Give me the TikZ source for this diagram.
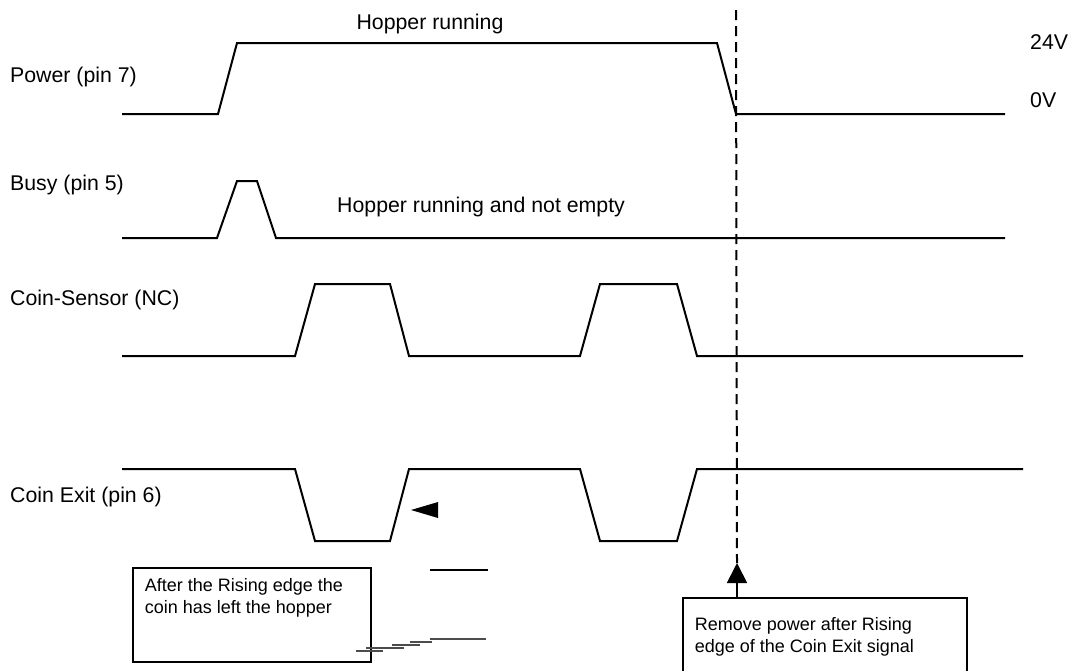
\documentclass[tikz,border=0pt]{standalone}
\usepackage{fontspec}
\setmainfont{Liberation Sans}
\usetikzlibrary{arrows.meta,positioning}

\begin{document}
\begin{tikzpicture}[
    x=1pt, y=-1pt,
    sig/.style={line width=2pt, line join=miter},
    lbl/.style={font=\fontsize{21.3}{25}\selectfont, inner sep=0pt},
    note/.style={rectangle, draw, line width=1.6pt, inner xsep=12pt, inner ysep=11pt, font=\fontsize{18}{22}\selectfont},
    arrow/.style={-{Triangle[length=20pt,width=20pt]}, line width=1.8pt}
]
    \clip (0,0) rectangle (1068,670);

    % Signals
    \draw[sig] (122,114) -- (218,114) -- (237,43) -- (717,43) -- (736,114) -- (1005,114);
    \draw[sig] (122,238) -- (217,238) -- (237,181) -- (257,181) -- (276,238) -- (1005,238);
    \draw[sig] (122,356) -- (295,356) -- (315,284) -- (390,284) -- (409,356)
        -- (580,356) -- (600,284) -- (677,284) -- (697,356) -- (1023,356);
    \draw[sig] (122,469) -- (295,469) -- (315,541) -- (390,541) -- (409,469)
        -- (580,469) -- (600,541) -- (677,541) -- (697,469) -- (1023,469);

    % Labels
    \node[lbl, anchor=west] (power) at (10,77) {Power (pin 7)};
    \node[lbl, anchor=west] (busy) at (10,185) {Busy (pin 5)};
    \node[lbl, anchor=west] (sensor) at (10,300) {Coin-Sensor (NC)};
    \node[lbl, anchor=west] (exit) at (10,497) {Coin Exit (pin 6)};
    \node[lbl] (run) at (430,24) {Hopper running};
    \node[lbl, anchor=west] (runfull) at (337,207) {Hopper running and not empty};
    \node[lbl, anchor=west] (high) at (1030,42) {24V};
    \node[lbl, anchor=west] (low) at (1030,100) {0V};

    % Notes
    \node[note, anchor=north west] (risenote) at (132,567)
        {\parbox[t][72pt][t]{214pt}{After the Rising edge the\\coin has left the hopper}};
    \node[note, anchor=north west, inner ysep=20pt] (cutnote) at (682,597)
        {\parbox[t][90pt][t]{260pt}{Remove power after Rising\\edge of the Coin Exit signal}};

    % Power cut marker
    \coordinate (tip) at (737,563);
    \draw[line width=2pt, dash pattern=on 10pt off 6pt] (736,10) -- (tip);
    \draw[arrow] (cutnote.north west -| tip) -- (tip);

    % Rising edge marker
    \fill (411,510) -- (438,502) -- (438,518) -- cycle;
    \draw[line width=1.4pt] (430,570) -- (488,570);
    \draw[line width=1.2pt, black!70] (356,651) -- (383,651)
        (366,648) -- (404,648) (392,645) -- (420,645)
        (410,642) -- (432,642) (430,639) -- (486,639);

\end{tikzpicture}
\end{document}
